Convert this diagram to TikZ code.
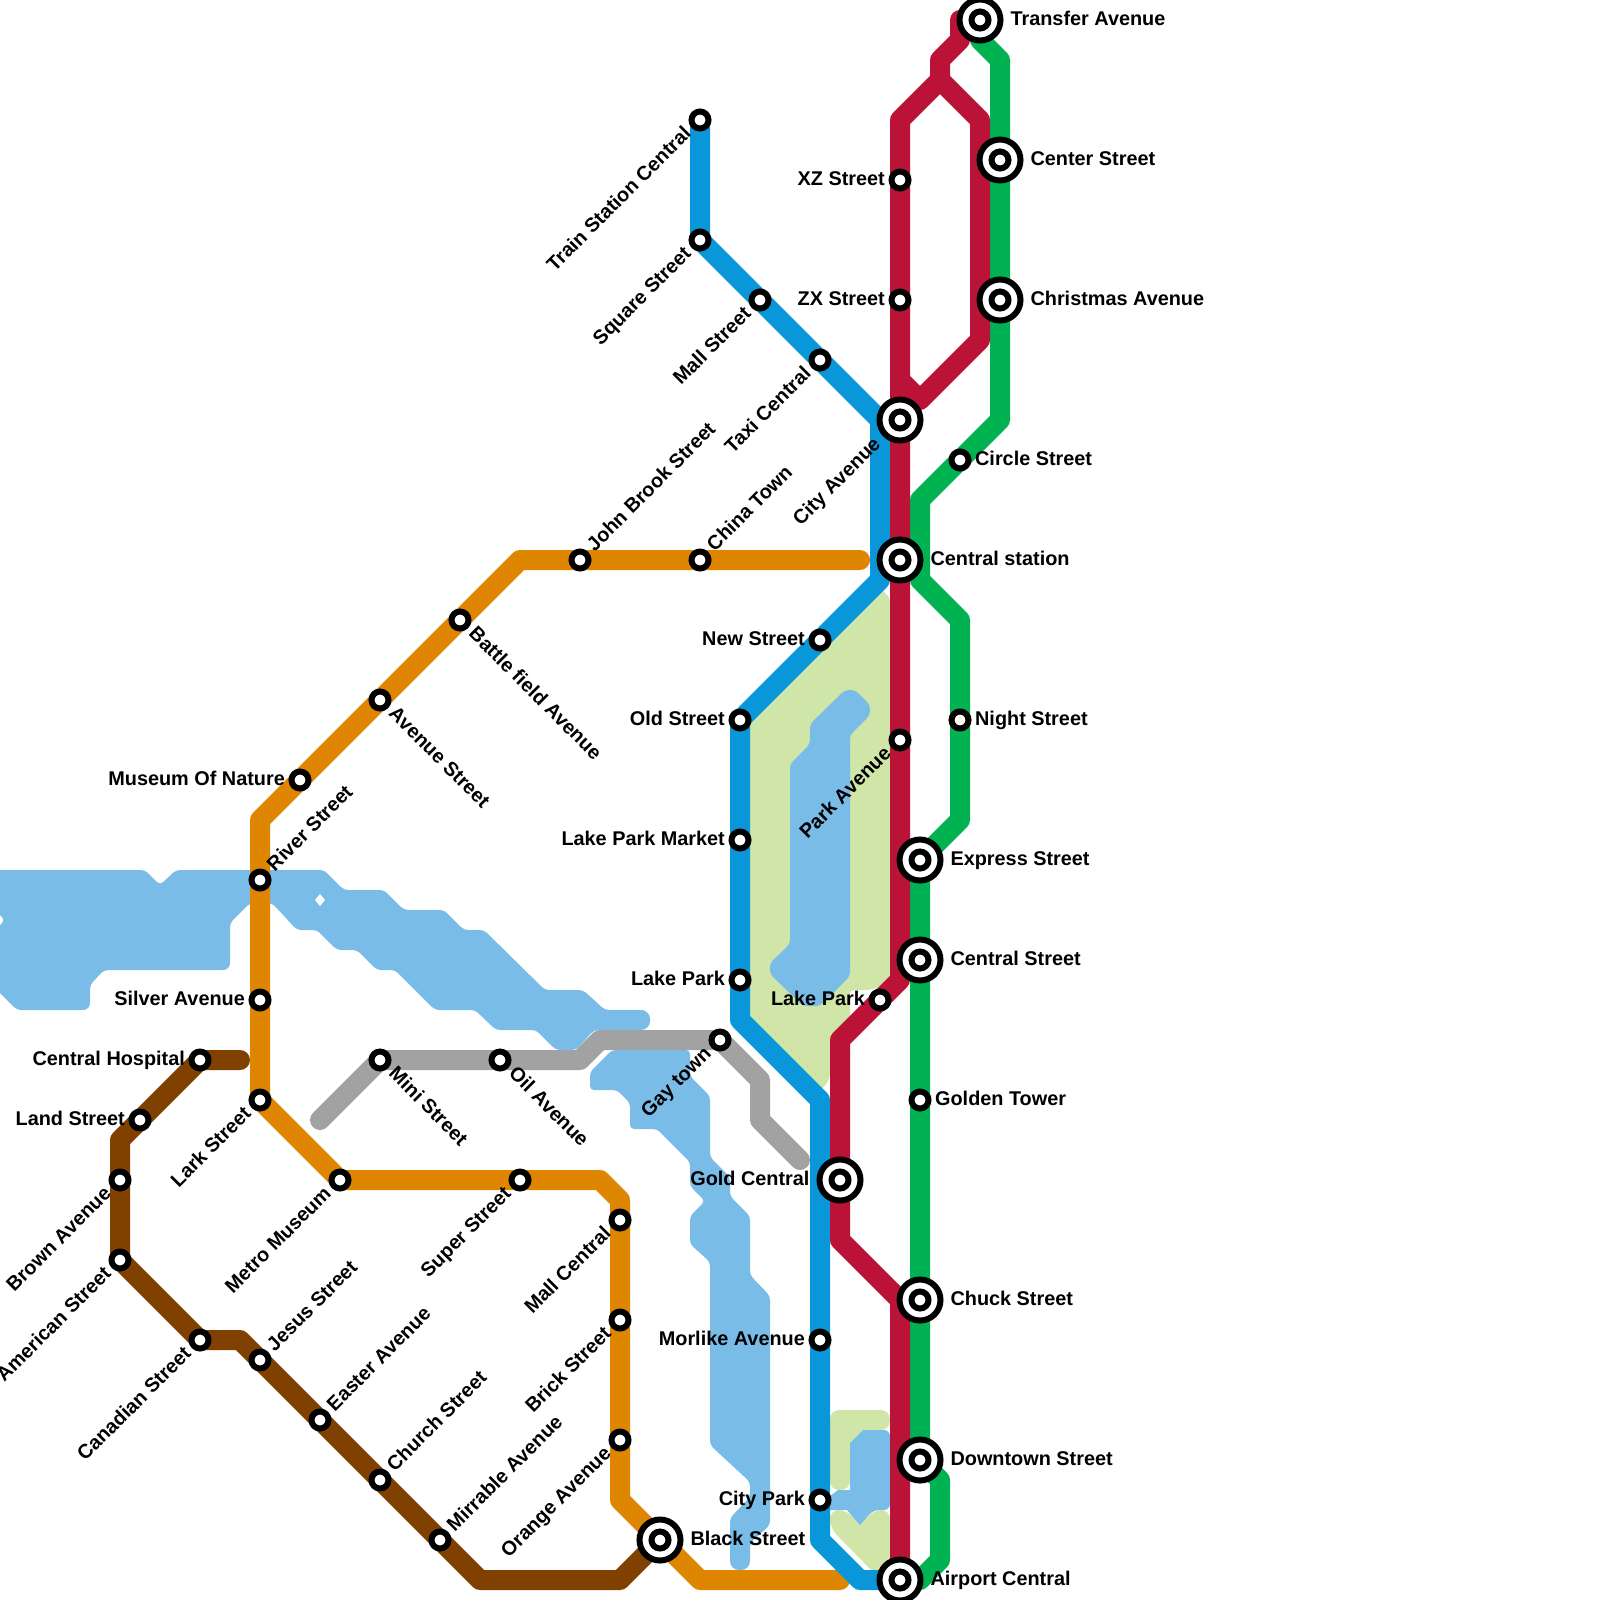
\documentclass[tikz,border=0pt]{standalone}
\usepackage{fontspec}
\setmainfont{Liberation Sans}
\usetikzlibrary{backgrounds}
\definecolor{cBlue}{HTML}{0A97D9}
\definecolor{cRed}{HTML}{BB1238}
\definecolor{cGreen}{HTML}{00B251}
\definecolor{cOrange}{HTML}{DF8600}
\definecolor{cBrown}{HTML}{7F4000}
\definecolor{cGrey}{HTML}{A2A2A2}
\definecolor{cWater}{HTML}{7ABCE8}
\definecolor{cPark}{HTML}{D0E6A8}
\pgfdeclarelayer{lines}\pgfdeclarelayer{land}
\pgfsetlayers{land,lines,main}
\tikzset{
  x=0.05cm,y=-0.05cm,
  metro/.style={line width=1cm,line cap=round,line join=round},
  water/.style={fill=cWater,rounded corners=0.2cm},
  park/.style={fill=cPark,rounded corners=0.2cm},
  st/.style={circle,draw=black,fill=white,line width=0.3cm,minimum size=0.85cm,inner sep=0pt},
  bigst/.style={circle,draw=black,fill=white,line width=0.3cm,minimum size=2.05cm,inner sep=0pt},
  lbl/.style={inner sep=0pt,font=\fontsize{28.25}{34}\selectfont\bfseries},
  lR/.style={lbl,anchor=base west,xshift=0.75cm,yshift=-0.25cm},
  lRb/.style={lbl,anchor=base west,xshift=1.52cm,yshift=-0.25cm},
  lL/.style={lbl,anchor=base east,xshift=-0.75cm,yshift=-0.25cm},
  lLb/.style={lbl,anchor=base east,xshift=-1.52cm,yshift=-0.25cm},
  lUR/.style={lbl,anchor=base west,rotate=45,xshift=0.8cm,yshift=-0.25cm},
  lDL/.style={lbl,anchor=base east,rotate=45,xshift=-0.8cm,yshift=-0.25cm},
  lDLb/.style={lbl,anchor=base east,rotate=45,xshift=-1.55cm,yshift=-0.25cm},
  lDR/.style={lbl,anchor=base west,rotate=-45,xshift=0.8cm,yshift=-0.25cm},
}
\newcommand{\bigstation}[3]{\node[bigst] (#1) at (#2,#3) {}; \node[st] (#1-in) at (#1.center) {};}
\begin{document}
\begin{tikzpicture}
\useasboundingbox (0,0) rectangle (1600,1600);
% stations
\node[st] (trainstation) at (700,120) {};
\node[st] (square) at (700,240) {};
\node[st] (mallst) at (760,300) {};
\node[st] (taxi) at (820,360) {};
\node[st] (newst) at (820,640) {};
\node[st] (oldst) at (740,720) {};
\node[st] (lpmarket) at (740,840) {};
\node[st] (lakepark) at (740,980) {};
\node[st] (morlike) at (820,1340) {};
\node[st] (citypark) at (820,1500) {};
\node[st] (xz) at (900,180) {};
\node[st] (zx) at (900,300) {};
\node[st] (parkave) at (900,740) {};
\node[st] (lakeparkb) at (880,1000) {};
\node[st] (circle) at (960,460) {};
\node[st] (night) at (960,720) {};
\node[st] (golden) at (920,1100) {};
\node[st] (johnbrook) at (580,560) {};
\node[st] (china) at (700,560) {};
\node[st] (battle) at (460,620) {};
\node[st] (avenue) at (380,700) {};
\node[st] (museum) at (300,780) {};
\node[st] (river) at (260,880) {};
\node[st] (silver) at (260,1000) {};
\node[st] (lark) at (260,1100) {};
\node[st] (metro) at (340,1180) {};
\node[st] (super) at (520,1180) {};
\node[st] (mallc) at (620,1220) {};
\node[st] (brick) at (620,1320) {};
\node[st] (orangeav) at (620,1440) {};
\node[st] (hospital) at (200,1060) {};
\node[st] (land) at (140,1120) {};
\node[st] (brown) at (120,1180) {};
\node[st] (american) at (120,1260) {};
\node[st] (canadian) at (200,1340) {};
\node[st] (jesus) at (260,1360) {};
\node[st] (easter) at (320,1420) {};
\node[st] (church) at (380,1480) {};
\node[st] (mirrable) at (440,1540) {};
\node[st] (mini) at (380,1060) {};
\node[st] (oil) at (500,1060) {};
\node[st] (gay) at (720,1040) {};
\bigstation{transfer}{980}{20}
\bigstation{center}{1000}{160}
\bigstation{christmas}{1000}{300}
\bigstation{city}{900}{420}
\bigstation{central}{900}{560}
\bigstation{express}{920}{860}
\bigstation{centralst}{920}{960}
\bigstation{gold}{840}{1180}
\bigstation{chuck}{920}{1300}
\bigstation{downtown}{920}{1460}
\bigstation{airport}{900}{1580}
\bigstation{black}{660}{1540}
% labels
\node[lDL] (l1) at (trainstation) {Train Station Central};
\node[lDL] (l2) at (square) {Square Street};
\node[lDL] (l3) at (mallst) {Mall Street};
\node[lDL] (l4) at (taxi) {Taxi Central};
\node[lDLb] (l5) at (city) {City Avenue};
\node[lDL] (l6) at (parkave) {Park Avenue};
\node[lDL] (l7) at (gay) {Gay town};
\node[lDL] (l8) at (lark) {Lark Street};
\node[lDL] (l9) at (metro) {Metro Museum};
\node[lDL] (l10) at (super) {Super Street};
\node[lDL] (l11) at (mallc) {Mall Central};
\node[lDL] (l12) at (brick) {Brick Street};
\node[lDL] (l13) at (orangeav) {Orange Avenue};
\node[lDL] (l14) at (brown) {Brown Avenue};
\node[lDL] (l15) at (american) {American Street};
\node[lDL] (l16) at (canadian) {Canadian Street};
\node[lUR] (l17) at (river) {River Street};
\node[lUR] (l18) at (johnbrook) {John Brook Street};
\node[lUR] (l19) at (china) {China Town};
\node[lUR] (l20) at (jesus) {Jesus Street};
\node[lUR] (l21) at (easter) {Easter Avenue};
\node[lUR] (l22) at (church) {Church Street};
\node[lUR] (l23) at (mirrable) {Mirrable Avenue};
\node[lDR] (l24) at (battle) {Battle field Avenue};
\node[lDR] (l25) at (avenue) {Avenue Street};
\node[lDR] (l26) at (mini) {Mini Street};
\node[lDR] (l27) at (oil) {Oil Avenue};
\node[lL] (l28) at (xz) {XZ Street};
\node[lL] (l29) at (zx) {ZX Street};
\node[lL] (l30) at (newst) {New Street};
\node[lL] (l31) at (oldst) {Old Street};
\node[lL] (l32) at (lpmarket) {Lake Park Market};
\node[lL] (l33) at (lakepark) {Lake Park};
\node[lL] (l34) at (lakeparkb) {Lake Park};
\node[lL] (l35) at (morlike) {Morlike Avenue};
\node[lL] (l36) at (citypark) {City Park};
\node[lL] (l37) at (museum) {Museum Of Nature};
\node[lL] (l38) at (silver) {Silver Avenue};
\node[lL] (l39) at (hospital) {Central Hospital};
\node[lL] (l40) at (land) {Land Street};
\node[lLb] (l41) at (gold) {Gold Central};
\node[lRb] (l42) at (transfer) {Transfer Avenue};
\node[lRb] (l43) at (center) {Center Street};
\node[lRb] (l44) at (christmas) {Christmas Avenue};
\node[lR] (l45) at (circle) {Circle Street};
\node[lRb] (l46) at (central) {Central station};
\node[lR] (l47) at (night) {Night Street};
\node[lRb] (l48) at (express) {Express Street};
\node[lRb] (l49) at (centralst) {Central Street};
\node[lR] (l50) at (golden) {Golden Tower};
\node[lRb] (l51) at (chuck) {Chuck Street};
\node[lRb] (l52) at (downtown) {Downtown Street};
\node[lRb] (l53) at (black) {Black Street};
\node[lRb] (l54) at (airport) {Airport Central};
% land
\begin{pgfonlayer}{land}
\path[park] (750,720) -- (872,594) -- (880,588) -- (890,598) -- (890,985) -- (868,990) -- (850,990) -- (850,1025) -- (830,1040) -- (830,1078) -- (822,1090) -- (810,1090) -- (750,1025) -- cycle;
\path[park,rounded corners=0.45cm] (830,1410) -- (890,1410) -- (890,1430) -- (863,1430) -- (850,1443) -- (850,1490) -- (830,1490) -- cycle;
\path[park,rounded corners=0.45cm] (830,1510) -- (847,1510) -- (860,1525) -- (873,1510) -- (890,1510) -- (890,1575) -- (876,1575) -- (830,1528) -- cycle;
% west lake and river
\path[water] (-20,870) -- (145,870) -- (160,885) -- (176,870) -- (243,870) -- (272,870) -- (324,870) -- (344,890) -- (384,890) -- (404,910) -- (444,910) -- (464,930) -- (484,930) -- (545,990) -- (583,990) -- (605,1010) -- (640,1010) [rounded corners=0.45cm] -- (650,1010) -- (650,1030) [rounded corners=0.2cm] -- (594,1030) -- (576,1050) -- (556,1050) -- (536,1030) -- (496,1030) -- (475,1010) -- (435,1010) -- (395,970) -- (377,970) -- (357,950) -- (337,950) -- (317,930) -- (297,930) -- (272,903) -- (250,903) -- (230,923) [rounded corners=0.35cm] -- (230,970) [rounded corners=0.2cm] -- (104,970) -- (90,985) [rounded corners=0.35cm] -- (90,1010) [rounded corners=0.2cm] -- (17,1010) -- (-3,990) -- (-20,990) -- (-20,930) -- (-5,930) -- (5,920) -- (-5,910) -- (-20,910) -- cycle;
\fill[white] (320,894) -- (325,900) -- (320,906) -- (315,900) -- cycle;
\path[water] (612,1050) -- (690,1050) -- (690,1076) -- (710,1096) -- (710,1157) -- (730,1177) -- (730,1196) -- (750,1216) -- (750,1275) -- (770,1296) -- (770,1525) -- (750,1543) [rounded corners=0.45cm] -- (750,1570) -- (730,1570) [rounded corners=0.2cm] -- (730,1518) -- (750,1497) -- (750,1482) -- (710,1445) -- (710,1262) -- (690,1244) -- (690,1216) -- (705,1201) -- (690,1186) -- (690,1162) -- (657,1129) -- (630,1129) -- (630,1103) -- (617,1090) -- (590,1090) -- (590,1072) -- cycle;
\path[water] (845,690) -- (855,690) -- (870,705) -- (870,715) -- (850,735) -- (850,976) -- (820,1006) -- (803,1006) -- (770,974) -- (770,963) -- (790,944) -- (790,764) -- (810,744) -- (810,724) -- cycle;
\path[water,rounded corners=0.3cm] (863,1430) -- (890,1430) -- (890,1510) -- (873,1510) [sharp corners] -- (860,1525) -- (847,1510) -- (830,1510) -- (825,1500) -- (838,1490) -- (850,1490) -- (850,1443) -- cycle;
\end{pgfonlayer}
% lines
\begin{pgfonlayer}{lines}
\coordinate (bk1) at (240,1060);
\coordinate (bk2) at (120,1140);
\coordinate (bk3) at (240,1340);
\coordinate (bk4) at (480,1580);
\coordinate (bk5) at (620,1580);
\draw[metro,cBrown] (bk1) -- (hospital.center) -- (land.center) -- (bk2) -- (brown.center) -- (american.center) -- (canadian.center) -- (bk3) -- (jesus.center) -- (easter.center) -- (church.center) -- (mirrable.center) -- (bk4) -- (bk5) -- (black.center);
\coordinate (or1) at (860,560);
\coordinate (or2) at (520,560);
\coordinate (or3) at (260,820);
\coordinate (or4) at (600,1180);
\coordinate (or5) at (620,1200);
\coordinate (or6) at (620,1500);
\coordinate (or7) at (700,1580);
\coordinate (or8) at (840,1580);
\draw[metro,cOrange] (or1) -- (china.center) -- (johnbrook.center) -- (or2) -- (battle.center) -- (avenue.center) -- (museum.center) -- (or3) -- (river.center) -- (silver.center) -- (lark.center) -- (metro.center) -- (super.center) -- (or4) -- (or5) -- (mallc.center) -- (brick.center) -- (orangeav.center) -- (or6) -- (black.center) -- (or7) -- (or8);
\coordinate (gr1) at (320,1120);
\coordinate (gr2) at (580,1060);
\coordinate (gr3) at (600,1040);
\coordinate (gr4) at (760,1080);
\coordinate (gr5) at (760,1120);
\coordinate (gr6) at (800,1160);
\draw[metro,cGrey] (gr1) -- (mini.center) -- (oil.center) -- (gr2) -- (gr3) -- (gay.center) -- (gr4) -- (gr5) -- (gr6);
\coordinate (gn1) at (980,40);
\coordinate (gn2) at (1000,60);
\coordinate (gn3) at (1000,420);
\coordinate (gn4) at (920,500);
\coordinate (gn5) at (920,580);
\coordinate (gn6) at (960,620);
\coordinate (gn7) at (960,820);
\coordinate (gn8) at (940,1480);
\coordinate (gn9) at (940,1560);
\coordinate (gn10) at (920,1580);
\draw[metro,cGreen] (transfer.center) -- (gn1) -- (gn2) -- (center.center) -- (christmas.center) -- (gn3) -- (circle.center) -- (gn4) -- (gn5) -- (gn6) -- (night.center) -- (gn7) -- (express.center) -- (centralst.center) -- (golden.center) -- (chuck.center) -- (downtown.center) -- (gn8) -- (gn9) -- (gn10) -- (airport.center);
\coordinate (bl1) at (880,420);
\coordinate (bl2) at (880,580);
\coordinate (bl3) at (740,1020);
\coordinate (bl4) at (820,1100);
\coordinate (bl5) at (820,1540);
\coordinate (bl6) at (860,1580);
\draw[metro,cBlue] (trainstation.center) -- (square.center) -- (mallst.center) -- (taxi.center) -- (bl1) -- (bl2) -- (newst.center) -- (oldst.center) -- (lpmarket.center) -- (lakepark.center) -- (bl3) -- (bl4) -- (morlike.center) -- (citypark.center) -- (bl5) -- (bl6) -- (airport.center);
\coordinate (rd1) at (960,20);
\coordinate (rd2) at (960,40);
\coordinate (rd3) at (940,60);
\coordinate (rd4) at (940,80);
\coordinate (rd5) at (900,120);
\coordinate (rd6) at (900,980);
\coordinate (rd7) at (840,1040);
\coordinate (rd8) at (840,1240);
\coordinate (rd9) at (900,1300);
\coordinate (rd10) at (980,120);
\coordinate (rd11) at (980,340);
\coordinate (rd12) at (920,400);
\coordinate (rd13) at (900,380);
\draw[metro,cRed] (transfer.center) -- (rd1) -- (rd2) -- (rd3) -- (rd4) -- (rd5) -- (xz.center) -- (zx.center) -- (city.center) -- (central.center) -- (parkave.center) -- (rd6) -- (lakeparkb.center) -- (rd7) -- (gold.center) -- (rd8) -- (rd9) -- (airport.center);
\draw[metro,cRed] (rd4) -- (rd10) -- (rd11) -- (rd12) -- (rd13);
\end{pgfonlayer}
\end{tikzpicture}
\end{document}
